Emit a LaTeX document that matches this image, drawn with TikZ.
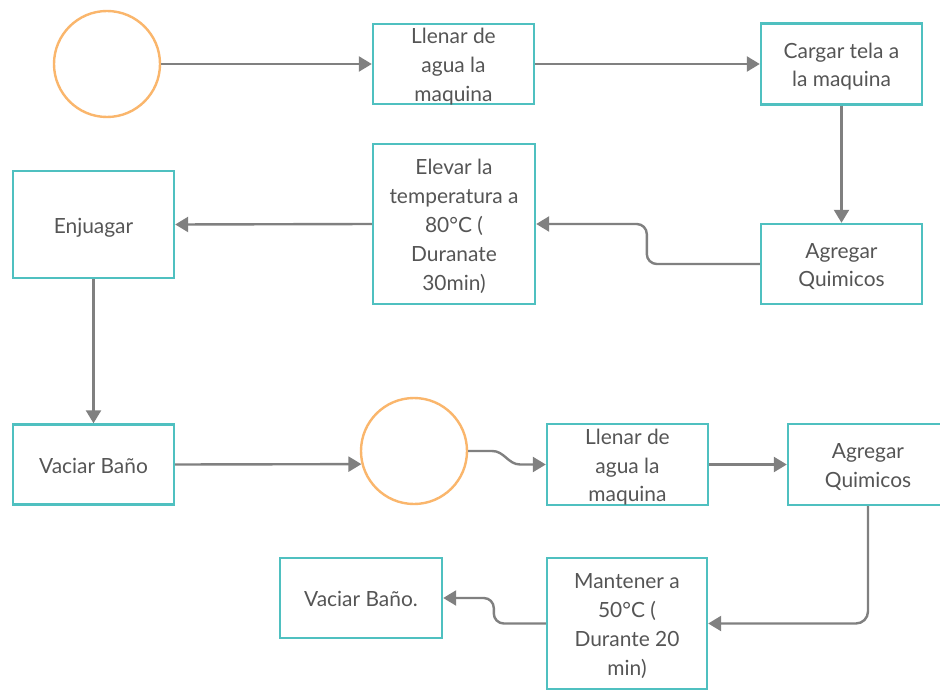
\documentclass[tikz,border=0pt]{standalone}
\usepackage{fontspec}
\setmainfont{Lato}
\usetikzlibrary{arrows.meta,shapes.geometric}

\definecolor{boxline}{RGB}{79,192,192}
\definecolor{ringline}{RGB}{250,182,108}
\definecolor{flowline}{RGB}{128,128,128}
\definecolor{labeltext}{RGB}{85,85,85}

% label body with a fixed first-line height and last-line depth,
% so every label block is centred the same way in its box
\newcommand\steplabel[1]{\rule{0pt}{23bp}#1\rule[-6bp]{0pt}{0pt}}

\tikzset{
  stepbox/.style={draw=boxline, line width=2.4bp, fill=white, rectangle,
    inner sep=0pt, align=center, text=labeltext,
    font=\fontsize{21}{29}\selectfont},
  % three lines overflow an 80bp box: let the text run past the border
  tightbox/.style={stepbox, inner ysep=-8bp},
  ring/.style={draw=ringline, line width=2.4bp, circle, inner sep=0pt,
    minimum size=106bp},
  flow/.style={draw=flowline, line width=2.4bp,
    -{Triangle[length=13bp,width=15bp]}},
}

\begin{document}
\begin{tikzpicture}[x=1bp,y=-1bp]
  \useasboundingbox (0,0) rectangle (940,691);
  \clip (0,0) rectangle (940,691);
  \fill[white] (0,0) rectangle (940,691);

  % first cycle
  \node[ring] (c1) at (107,64) {};
  \node[tightbox, minimum width=161bp, minimum height=80bp] (llenar1) at (453.5,64)
    {\steplabel{Llenar de\\agua la\\maquina}};
  \node[stepbox, minimum width=161bp, minimum height=81bp] (cargar) at (841.5,64)
    {\steplabel{Cargar tela a\\la maquina}};
  \node[stepbox, minimum width=161bp, minimum height=80bp] (agregar1) at (841.5,264)
    {\steplabel{Agregar\\Quimicos}};
  \node[stepbox, minimum width=162bp, minimum height=160bp] (elevar) at (454,224)
    {\steplabel{Elevar la\\temperatura a\\80°C (\\Duranate\\30min)}};
  \node[stepbox, minimum width=161bp, minimum height=107bp] (enjuagar) at (93.5,224.5)
    {\steplabel{Enjuagar}};
  \node[stepbox, minimum width=161bp, minimum height=80bp] (vaciar1) at (93.5,464.5)
    {\steplabel{Vaciar Baño}};

  % second cycle
  \node[ring] (c2) at (414,451) {};
  \node[tightbox, minimum width=161bp, minimum height=81bp] (llenar2) at (627.5,464.5)
    {\steplabel{Llenar de\\agua la\\maquina}};
  \node[stepbox, minimum width=160bp, minimum height=81bp] (agregar2) at (868,464.5)
    {\steplabel{Agregar\\Quimicos}};
  \node[stepbox, minimum width=160bp, minimum height=131bp] (mantener) at (627,623.5)
    {\steplabel{Mantener a\\50°C (\\Durante 20\\min)}};
  \node[stepbox, minimum width=162bp, minimum height=80bp] (vaciar2) at (361,598)
    {\steplabel{Vaciar Baño.}};

  % connectors
  \draw[flow] (c1.east) -- (llenar1.west);
  \draw[flow] (llenar1.east) -- (cargar.west);
  \draw[flow] (cargar.south) -- (agregar1.north);
  \draw[flow, rounded corners=10bp] (agregar1.west) -- ++(-113,0) |- (elevar.east);
  \draw[flow] (elevar.west) -- (enjuagar.east);
  \draw[flow] (enjuagar.south) -- (vaciar1.north);
  \draw[flow] (vaciar1.east) -- (c2.194.75);
  \draw[flow] (c2.east) -- ++(24,0) to[out=0,in=180] ++(28,13.5) -- (llenar2.west);
  \draw[flow] (llenar2.east) -- (agregar2.west);
  \draw[flow, rounded corners=12bp] (agregar2.south) |- (mantener.east);
  \draw[flow, rounded corners=10bp] (mantener.west) -- ++(-52,0) |- (vaciar2.east);
\end{tikzpicture}
\end{document}
